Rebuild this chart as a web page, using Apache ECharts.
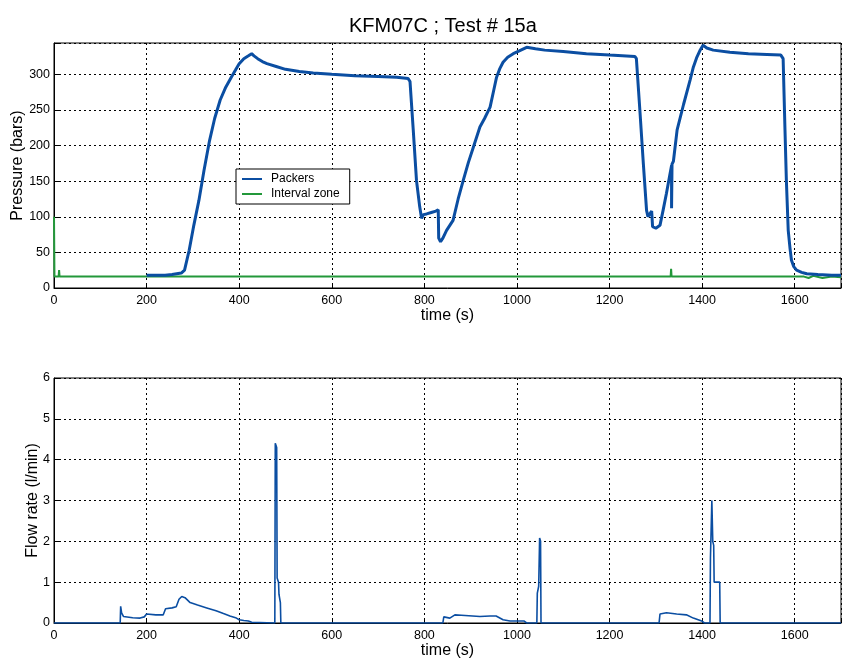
<!DOCTYPE html>
<html>
<head>
<meta charset="utf-8">
<script src="https://cdn.jsdelivr.net/npm/echarts@6/dist/echarts.min.js"></script>
<style>html,body{margin:0;padding:0;background:#fff;}#c{width:843px;height:663px;}</style>
</head>
<body>
<div id="c"></div>
<script>
// time (s), pressure (bars)
const packersData = [[200,18],[220,18],[240,18],[255,19],[265,20],[275,21],[282,25],[292,53],[302,88],[313,123],[324,165],[336,207],[347,238],[359,264],[371,282],[383,296],[392,306],[400,315],[410,322],[420,326],[427,329],[432,326],[440,322],[450,318],[460,315],[480,311],[500,307],[530,304],[560,302],[600,300],[650,298],[700,297],[740,296],[765,294],[769,290],[776,222],[783,151],[790,114],[794,98],[798,103],[805,104],[815,106],[825,108],[830,110],[831,70],[835,65],[840,70],[848,81],[862,95],[873,125],[884,151],[895,176],[906,198],[920,226],[930,238],[942,254],[950,278],[956,296],[963,308],[970,317],[980,324],[992,329],[1005,333],[1021,338],[1040,336],[1060,334],[1100,332],[1150,329],[1200,327],[1255,325],[1258,322],[1266,245],[1273,175],[1280,109],[1283,100],[1287,104],[1291,108],[1293,86],[1300,84],[1309,88],[1316,110],[1323,133],[1330,158],[1334,172],[1334,112],[1335,174],[1338,178],[1346,222],[1360,258],[1374,292],[1381,310],[1388,323],[1395,333],[1402,341],[1410,337],[1424,334],[1460,331],[1500,329],[1540,328],[1570,327],[1575,322],[1579,222],[1582,151],[1586,81],[1590,55],[1593,39],[1598,30],[1604,25],[1615,22],[1626,20],[1650,19],[1680,18],[1700,18]];
const intervalData = [[0,100],[1,16],[10,16],[11,25],[12,16],[1332,16],[1333,27],[1334,16],[1620,16],[1630,14],[1640,17],[1660,14],[1680,16],[1700,15]];
// time (s), flow rate (l/min)
const flowData = [[0,0],[143,0],[144,0.41],[146,0.25],[150,0.16],[170,0.13],[186,0.12],[195,0.15],[200,0.22],[220,0.2],[236,0.2],[241,0.35],[255,0.37],[264,0.4],[270,0.58],[276,0.65],[283,0.62],[294,0.5],[310,0.44],[330,0.37],[350,0.3],[366,0.23],[380,0.17],[394,0.12],[400,0.08],[410,0.06],[420,0.05],[427,0.02],[430,0],[477,0],[478,4.4],[481,4.3],[482,1.1],[485,1.0],[486,0.7],[489,0.5],[490,0],[840,0],[842,0.15],[855,0.12],[866,0.2],[880,0.19],[920,0.16],[942,0.17],[946,0.21],[955,0.17],[970,0.08],[985,0.05],[1015,0.05],[1021,0],[1043,0],[1044,0.73],[1047,0.9],[1049,2.08],[1051,2.0],[1052,0],[1307,0],[1309,0.22],[1323,0.25],[1345,0.22],[1366,0.2],[1381,0.12],[1399,0.05],[1405,0],[1417,0],[1418,1.6],[1421,3.0],[1423,2.0],[1425,1.9],[1426,1.0],[1438,1.0],[1439,0],[1700,0]];
const seriesNames = ['Packers', 'Interval zone', 'Flow rate'];
const titleText = 'KFM07C ; Test # 15a';
const xName = 'time (s)';
const yNames = ['Pressure (bars)', 'Flow rate (l/min)'];

const FONT = 'Liberation Sans, Arial, Helvetica, sans-serif';
const gridLine = {show: true, lineStyle: {color: '#000', type: [2, 3], width: 1}};
function fmt(step) {
  return function (v) { return (Math.abs(v % step) < 1e-9) ? String(v) : ''; };
}
function xAx(idx) {
  return {
    type: 'value', gridIndex: idx, min: 0, max: 1700, interval: 200,
    name: xName, nameLocation: 'middle', nameGap: 20, nameMoveOverlap: false,
    nameTextStyle: {fontFamily: FONT, fontSize: 16, color: '#000'},
    axisLine: {lineStyle: {color: '#000', width: 1}},
    axisTick: {inside: true, length: 5, lineStyle: {color: '#000'}},
    axisLabel: {fontFamily: FONT, fontSize: 12.5, color: '#000', margin: 6, formatter: fmt(200)},
    splitLine: gridLine
  };
}
function yAx(idx, max, interval, name, gap) {
  return {
    type: 'value', gridIndex: idx, min: 0, max: max, interval: interval,
    name: name, nameLocation: 'middle', nameGap: gap, nameRotate: 90, nameMoveOverlap: false,
    nameTextStyle: {fontFamily: FONT, fontSize: 16, color: '#000'},
    axisLine: {show: true, lineStyle: {color: '#000', width: 1}},
    axisTick: {show: true, inside: true, length: 5, lineStyle: {color: '#000'}},
    axisLabel: {fontFamily: FONT, fontSize: 12.5, color: '#000', margin: 4, formatter: fmt(interval)},
    splitLine: gridLine
  };
}
const chart = echarts.init(document.getElementById('c'));
chart.setOption({
  animation: false,
  backgroundColor: '#fff',
  title: {text: titleText, left: 344, top: 11,
    textStyle: {fontFamily: FONT, fontSize: 20, fontWeight: 'normal', color: '#000'}},
  legend: {
    data: [seriesNames[0], seriesNames[1]],
    orient: 'vertical', left: 236, top: 169,
    backgroundColor: '#fff', borderColor: '#000', borderWidth: 1,
    padding: [4, 10, 4, 6], itemWidth: 20, itemHeight: 2, itemGap: 3,
    icon: 'rect',
    textStyle: {fontFamily: FONT, fontSize: 12, color: '#000', padding: [0, 0, 0, 4]}
  },
  grid: [
    {left: 54, top: 43, width: 787, height: 245, show: true, borderColor: '#000', borderWidth: 1, containLabel: false, outerBoundsMode: 'none'},
    {left: 54, top: 378, width: 787, height: 245, show: true, borderColor: '#000', borderWidth: 1, containLabel: false, outerBoundsMode: 'none'}
  ],
  xAxis: [xAx(0), xAx(1)],
  yAxis: [yAx(0, 344, 50, yNames[0], 28), yAx(1, 6, 1, yNames[1], 13)],
  series: [
    {name: seriesNames[0], type: 'line', xAxisIndex: 0, yAxisIndex: 0, data: packersData,
      showSymbol: false, symbol: 'none', color: '#0b4ea2', lineStyle: {width: 3, color: '#0b4ea2'}, z: 3},
    {name: seriesNames[1], type: 'line', xAxisIndex: 0, yAxisIndex: 0, data: intervalData,
      showSymbol: false, symbol: 'none', color: '#23983a', lineStyle: {width: 2, color: '#23983a'}, z: 2},
    {name: seriesNames[2], type: 'line', xAxisIndex: 1, yAxisIndex: 1, data: flowData,
      showSymbol: false, symbol: 'none', color: '#0b4ea2', lineStyle: {width: 1.6, color: '#0b4ea2'}, z: 3}
  ]
});
</script>
</body>
</html>
